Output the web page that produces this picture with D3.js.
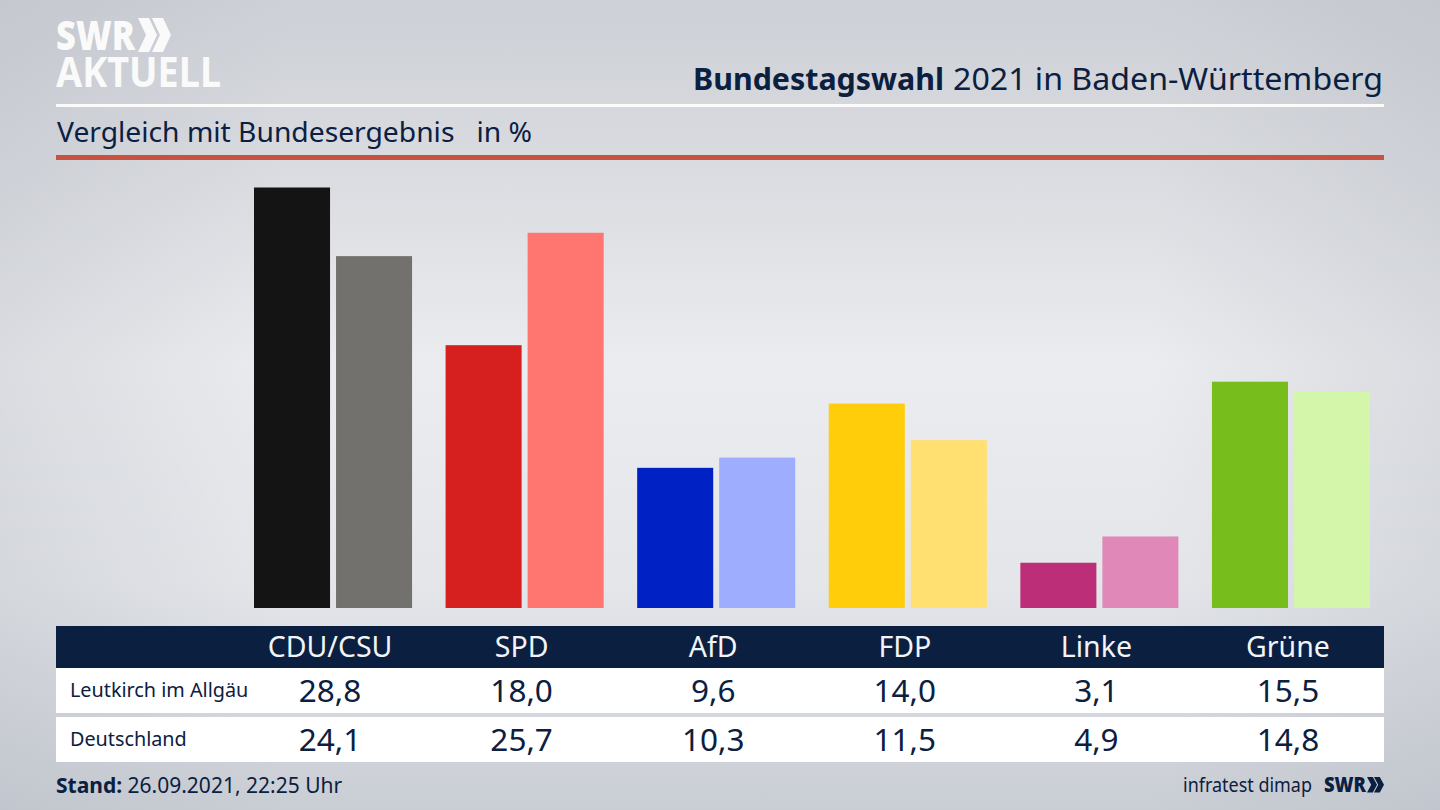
<!DOCTYPE html>
<html>
<head>
<meta charset="utf-8">
<script src="https://cdnjs.cloudflare.com/ajax/libs/d3/7.8.5/d3.min.js"></script>
<style>
  html, body { margin: 0; padding: 0; background: #d5d8dd; }
  svg { display: block; }
  text { font-family: "Noto Sans", sans-serif; fill: #0b2040; }
</style>
</head>
<body>
<div id="wrapper"></div>
<script>
// the data
const parties = ["CDU/CSU", "SPD", "AfD", "FDP", "Linke", "Grüne"]
const regions = ["Leutkirch im Allgäu", "Deutschland"]
const leutkirch = [28.8, 18.0, 9.6, 14.0, 3.1, 15.5]
const deutschland = [24.1, 25.7, 10.3, 11.5, 4.9, 14.8]
const colorsLeutkirch = ["#141414", "#d61f1f", "#0022c4", "#ffcd0a", "#bc2e78", "#77bd1c"]
const colorsDeutschland = ["#72716e", "#ff7670", "#9fadff", "#ffe070", "#e088b8", "#d3f6aa"]

const dimensions = {
  width: 1440,
  height: 810,
  chartLeft: 254,
  chartRight: 1370,
  chartTop: 187.5,
  baseline: 608,
  left: 56,
  right: 1384,
}

const wrapper = d3.select("#wrapper")
  .append("svg")
    .attr("width", dimensions.width)
    .attr("height", dimensions.height)

// background: lighter band through the middle, darker to the edges
const defs = wrapper.append("defs")
const bgGradient = defs.append("linearGradient")
    .attr("id", "bg")
    .attr("x1", 0).attr("y1", 0).attr("x2", 0).attr("y2", 1)
bgGradient.selectAll("stop")
  .data([[0, "#cdd0d6"], [0.2, "#d9dbe0"], [0.45, "#ebecef"], [0.72, "#e4e6ea"], [1, "#c9cdd4"]])
  .join("stop")
    .attr("offset", d => d[0])
    .attr("stop-color", d => d[1])
const sideGradient = defs.append("linearGradient")
    .attr("id", "side")
    .attr("x1", 0).attr("y1", 0).attr("x2", 1).attr("y2", 0)
sideGradient.selectAll("stop")
  .data([[0, 0.28], [0.2, 0], [0.8, 0], [1, 0.28]])
  .join("stop")
    .attr("offset", d => d[0])
    .attr("stop-color", "#aeb3bc")
    .attr("stop-opacity", d => d[1])
wrapper.append("rect")
    .attr("width", dimensions.width)
    .attr("height", dimensions.height)
    .attr("fill", "url(#bg)")
wrapper.append("rect")
    .attr("width", dimensions.width)
    .attr("height", dimensions.height)
    .attr("fill", "url(#side)")

// logo, top left
const chevron = (x, y, w, h) => {
  const arm = w * 0.58
  const mid = y + h / 2
  return `M${x},${y}L${x + arm},${y}L${x + w},${mid}L${x + arm},${y + h}L${x},${y + h}L${x + w - arm},${mid}Z`
}
const logo = wrapper.append("g")
logo.append("text")
    .attr("x", 56).attr("y", 50)
    .attr("textLength", 79).attr("lengthAdjust", "spacingAndGlyphs")
    .style("font-size", "41px").style("font-weight", 900)
    .style("fill", "#fafafa")
    .text("SWR")
logo.append("path")
    .attr("d", chevron(138, 18, 19, 34) + chevron(152, 18, 19, 34))
    .attr("fill", "#fafafa")
logo.append("text")
    .attr("x", 56).attr("y", 87)
    .attr("textLength", 165).attr("lengthAdjust", "spacingAndGlyphs")
    .style("font-size", "41px").style("font-weight", 700)
    .style("fill", "#fafafa")
    .text("AKTUELL")

// title and rules
wrapper.append("text")
    .attr("x", 693).attr("y", 90)
    .attr("textLength", 251).attr("lengthAdjust", "spacingAndGlyphs")
    .style("font-size", "31px").style("font-weight", 700)
    .text("Bundestagswahl")
wrapper.append("text")
    .attr("x", 953).attr("y", 90)
    .attr("textLength", 430).attr("lengthAdjust", "spacingAndGlyphs")
    .style("font-size", "31px")
    .text("2021 in Baden-Württemberg")

wrapper.append("rect")
    .attr("x", dimensions.left).attr("y", 104)
    .attr("width", dimensions.right - dimensions.left).attr("height", 3)
    .attr("fill", "#fbfbfb")
wrapper.append("text")
    .attr("x", 57).attr("y", 142)
    .attr("textLength", 475).attr("lengthAdjust", "spacingAndGlyphs")
    .attr("xml:space", "preserve")
    .style("font-size", "28px")
    .text("Vergleich mit Bundesergebnis   in %")
wrapper.append("rect")
    .attr("x", dimensions.left).attr("y", 155)
    .attr("width", dimensions.right - dimensions.left).attr("height", 5)
    .attr("fill", "#c9513f")

// scales
const xScale = d3.scaleBand()
    .domain(parties)
    .range([dimensions.chartLeft, dimensions.chartRight])
    .paddingInner(0.175)
const x1Scale = d3.scaleBand()
    .domain(regions)
    .range([0, xScale.bandwidth()])
    .paddingInner(0.073)
const yScale = d3.scaleLinear()
    .domain([0, 28.8])
    .range([dimensions.baseline, dimensions.chartTop])

// bars
const groups = wrapper.append("g")
  .selectAll("g")
  .data(parties)
  .join("g")
    .attr("transform", d => `translate(${xScale(d)},0)`)
groups.append("rect")
    .attr("x", x1Scale(regions[0]))
    .attr("y", (d, i) => yScale(leutkirch[i]))
    .attr("width", x1Scale.bandwidth())
    .attr("height", (d, i) => yScale(0) - yScale(leutkirch[i]))
    .attr("fill", (d, i) => colorsLeutkirch[i])
groups.append("rect")
    .attr("x", x1Scale(regions[1]))
    .attr("y", (d, i) => yScale(deutschland[i]))
    .attr("width", x1Scale.bandwidth())
    .attr("height", (d, i) => yScale(0) - yScale(deutschland[i]))
    .attr("fill", (d, i) => colorsDeutschland[i])

// table below the bars
const tableWidth = dimensions.right - dimensions.left
wrapper.append("rect")
    .attr("x", dimensions.left).attr("y", 626)
    .attr("width", tableWidth).attr("height", 42)
    .attr("fill", "#0b2040")
wrapper.append("rect")
    .attr("x", dimensions.left).attr("y", 668)
    .attr("width", tableWidth).attr("height", 45)
    .attr("fill", "#ffffff")
wrapper.append("rect")
    .attr("x", dimensions.left).attr("y", 717)
    .attr("width", tableWidth).attr("height", 45)
    .attr("fill", "#ffffff")

// table columns sit on the right edge of the first bar of each group
const columnX = d => xScale(d) + x1Scale.bandwidth()
wrapper.append("g")
  .selectAll("text")
  .data(parties)
  .join("text")
    .attr("x", columnX)
    .attr("y", 657)
    .attr("text-anchor", "middle")
    .style("font-size", "28.5px")
    .style("fill", "#f2f4f7")
    .text(d => d)

const rows = [
  { label: regions[0], values: leutkirch, labelY: 697, valueY: 702 },
  { label: regions[1], values: deutschland, labelY: 746, valueY: 751 },
]
const formatValue = d => d.toFixed(1).replace(".", ",")
rows.forEach(row => {
  wrapper.append("text")
      .attr("x", 70).attr("y", row.labelY)
      .style("font-size", "19.8px")
      .text(row.label)
  wrapper.append("g")
    .selectAll("text")
    .data(row.values)
    .join("text")
      .attr("x", (d, i) => columnX(parties[i]))
      .attr("y", row.valueY)
      .attr("text-anchor", "middle")
      .style("font-size", "31.5px")
      .text(formatValue)
})

// footer
const stand = wrapper.append("text")
    .attr("x", 56).attr("y", 793)
    .style("font-size", "21px")
stand.append("tspan").style("font-weight", 700).text("Stand:")
stand.append("tspan").text(" 26.09.2021, 22:25 Uhr")
wrapper.append("text")
    .attr("x", 1183).attr("y", 792)
    .attr("textLength", 129).attr("lengthAdjust", "spacingAndGlyphs")
    .style("font-size", "20px")
    .text("infratest dimap")
wrapper.append("text")
    .attr("x", 1324).attr("y", 792)
    .attr("textLength", 42).attr("lengthAdjust", "spacingAndGlyphs")
    .style("font-size", "21px").style("font-weight", 900)
    .text("SWR")
wrapper.append("path")
    .attr("d", chevron(1367, 777, 10, 15.5) + chevron(1374, 777, 10, 15.5))
    .attr("fill", "#0b2040")
</script>
</body>
</html>
